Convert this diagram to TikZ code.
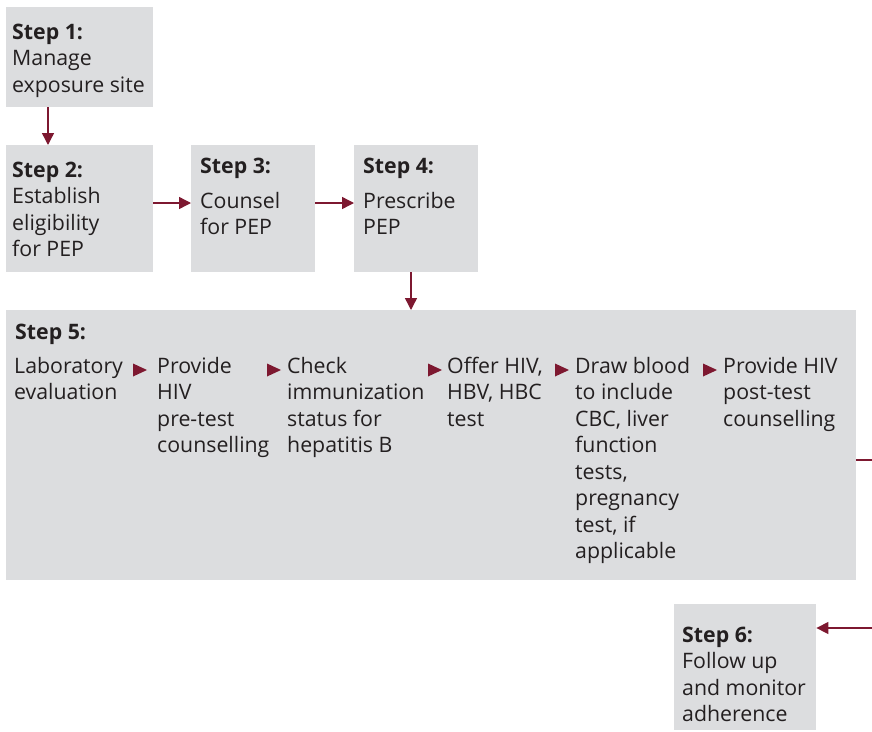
\documentclass[tikz,border=0pt]{standalone}
\usepackage{fontspec}
\setmainfont{Open Sans}
\usetikzlibrary{arrows.meta,calc}
\definecolor{boxgray}{HTML}{DCDDDF}
\definecolor{pepred}{HTML}{7D1830}
\definecolor{ink}{HTML}{231F20}

\begin{document}
\begin{tikzpicture}[x=1pt,y=-1pt,
  box/.style={fill=boxgray, draw=none, anchor=north west, inner sep=0pt},
  txt/.style={anchor=base west, inner sep=0pt, text=ink,
              font=\fontsize{21.3}{26.5}\selectfont},
  link/.style={draw=pepred, line width=1.4pt,
               -{Triangle[length=12pt,width=12pt]}},
  steptri/.pic={\fill[pepred] (0,-6.5) -- (14,0) -- (0,6.5) -- cycle;}
]
\useasboundingbox (0,0) rectangle (872,731);

% grey step boxes
\node[box, minimum width=147pt, minimum height=100pt] (s1) at (6,7) {};
\node[box, minimum width=147pt, minimum height=127pt] (s2) at (6,145) {};
\node[box, minimum width=124pt, minimum height=127pt] (s3) at (191,145) {};
\node[box, minimum width=124pt, minimum height=127pt] (s4) at (354,145) {};
\node[box, minimum width=850pt, minimum height=270pt] (s5) at (6,310) {};
\node[box, minimum width=142pt, minimum height=126pt] (s6) at (674,604) {};

% step texts
\node[txt] (t1) at (12,39) {\begin{tabular}[t]{@{}l@{}}\textbf{Step 1:}\\Manage\\exposure site\end{tabular}};
\node[txt] (t2) at (12,177) {\begin{tabular}[t]{@{}l@{}}\textbf{Step 2:}\\Establish\\eligibility\\for PEP\end{tabular}};
\node[txt] (t3) at (200,173) {\begin{tabular}[t]{@{}l@{}}\textbf{Step 3:}\\[8.5pt]Counsel\\for PEP\end{tabular}};
\node[txt] (t4) at (363,173) {\begin{tabular}[t]{@{}l@{}}\textbf{Step 4:}\\[8.5pt]Prescribe\\PEP\end{tabular}};
\node[txt] (t5) at (15,339) {\textbf{Step 5:}};
\node[txt] (t6) at (682,642) {\begin{tabular}[t]{@{}l@{}}\textbf{Step 6:}\\Follow up\\and monitor\\adherence\end{tabular}};

% laboratory evaluation sequence inside step 5
\node[txt] (c1) at (14,373) {\begin{tabular}[t]{@{}l@{}}Laboratory\\evaluation\end{tabular}};
\node[txt] (c2) at (157,373) {\begin{tabular}[t]{@{}l@{}}Provide\\HIV\\pre-test\\counselling\end{tabular}};
\node[txt] (c3) at (287,373) {\begin{tabular}[t]{@{}l@{}}Check\\immunization\\status for\\hepatitis B\end{tabular}};
\node[txt] (c4) at (447,373) {\begin{tabular}[t]{@{}l@{}}Offer HIV,\\HBV, HBC\\test\end{tabular}};
\node[txt] (c5) at (575,373) {\begin{tabular}[t]{@{}l@{}}Draw blood\\to include\\CBC, liver\\function\\tests,\\pregnancy\\test, if\\applicable\end{tabular}};
\node[txt] (c6) at (723,373) {\begin{tabular}[t]{@{}l@{}}Provide HIV\\post-test\\counselling\end{tabular}};

\pic at (133,370) {steptri};
\pic at (267,370) {steptri};
\pic at (428,370) {steptri};
\pic at (555,370) {steptri};
\pic at (703,370) {steptri};

% connectors between steps
\draw[link] ($(s1.south west)+(42,0)$) -- ($(s2.north west)+(42,0)$);
\draw[link] ($(s2.north east)+(0,58)$) -- ($(s3.north west)+(0,58)$);
\draw[link] ($(s3.north east)+(0,58)$) -- ($(s4.north west)+(0,58)$);
\draw[link] ($(s4.south west)+(57,0)$) -- ($(s5.north west)+(405,0)$);
\draw[link] ($(s5.north east)+(0,150)$) -- ++(40,0) |- ($(s6.north east)+(0,24)$);
\end{tikzpicture}
\end{document}
